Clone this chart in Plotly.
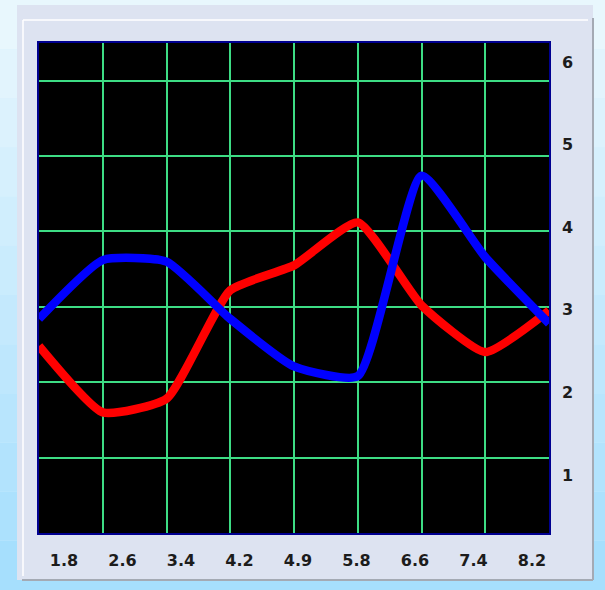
import plotly.graph_objects as go

# data
x_labels = ["1.8", "2.6", "3.4", "4.2", "4.9", "5.8", "6.6", "7.4", "8.2"]
y_labels = ["1", "2", "3", "4", "5", "6"]
red_values = [2.48, 1.60, 1.78, 3.22, 3.55, 4.12, 3.02, 2.40, 2.95]
blue_values = [2.84, 3.62, 3.60, 2.84, 2.21, 2.08, 4.74, 3.66, 2.78]

W, H = 605, 590
L, R, T, B = 39, 56, 43, 57
pw, ph = W - L - R, H - T - B


def px_x(p):
    return (p - L) / pw


def px_y(p):
    return (H - B - p) / ph


idx = list(range(len(red_values)))

fig = go.Figure()
fig.add_trace(go.Scatter(x=idx, y=red_values, mode="lines",
                         line=dict(color="#ff0000", width=8.5, shape="spline", smoothing=0.5),
                         showlegend=False, hoverinfo="skip"))
fig.add_trace(go.Scatter(x=idx, y=blue_values, mode="lines",
                         line=dict(color="#0000ff", width=8.5, shape="spline", smoothing=0.5),
                         showlegend=False, hoverinfo="skip"))

shapes = []
# light blue background gradient
n = 12
for i in range(n):
    t = i / (n - 1)
    r = int(0xe8 + (0xa6 - 0xe8) * t)
    g = int(0xf7 + (0xdf - 0xf7) * t)
    shapes.append(dict(type="rect", xref="paper", yref="paper", layer="below",
                       x0=px_x(0), x1=px_x(W), y0=px_y(H * (i + 1) / n), y1=px_y(H * i / n),
                       fillcolor=f"rgb({r},{g},253)", line=dict(width=0)))
# grey panel
shapes.append(dict(type="rect", xref="paper", yref="paper", layer="below",
                   x0=px_x(17), x1=px_x(593), y0=px_y(580), y1=px_y(5),
                   fillcolor="#dde3f1", line=dict(width=0)))
shapes.append(dict(type="line", xref="paper", yref="paper", layer="below",
                   x0=px_x(593), x1=px_x(593), y0=px_y(580), y1=px_y(18),
                   line=dict(color="#a4aab4", width=2)))
shapes.append(dict(type="line", xref="paper", yref="paper", layer="below",
                   x0=px_x(22), x1=px_x(593), y0=px_y(580), y1=px_y(580),
                   line=dict(color="#a4aab4", width=2)))
shapes.append(dict(type="line", xref="paper", yref="paper", layer="below",
                   x0=px_x(23), x1=px_x(23), y0=px_y(576), y1=px_y(20),
                   line=dict(color="#ffffff", width=1.5)))
shapes.append(dict(type="line", xref="paper", yref="paper", layer="below",
                   x0=px_x(23), x1=px_x(588), y0=px_y(20), y1=px_y(20),
                   line=dict(color="#ffffff", width=1.5)))
# black plot area (shapes sit above plot_bgcolor)
shapes.append(dict(type="rect", xref="paper", yref="paper", layer="below",
                   x0=0, x1=1, y0=0, y1=1, fillcolor="#000000", line=dict(width=0)))

n_pts = len(red_values)
label_span = (n_pts - 1) * pw / (532 - 64)
x2_lo = -(64 - L) * label_span / pw
y_lab_step = (475 - 62) / (len(y_labels) - 1)
y2_lo = 1 - (H - B - 475) / y_lab_step
y2_hi = len(y_labels) + (62 - T) / y_lab_step

fig.update_layout(
    width=W, height=H,
    margin=dict(l=L, r=R, t=T, b=B, pad=0),
    paper_bgcolor="#d6effd",
    plot_bgcolor="#000000",
    shapes=shapes,
    font=dict(family="DejaVu Sans, Verdana, sans-serif", size=16, color="#1c1c1c"),
    xaxis=dict(range=[0, n_pts - 1], dtick=1, showgrid=True, gridcolor="#3ddc84", gridwidth=1.5,
               showticklabels=False, zeroline=False, showline=True, linecolor="#000090",
               linewidth=2, mirror=True, fixedrange=True),
    yaxis=dict(range=[0, 6.5], dtick=1, showgrid=True, gridcolor="#3ddc84", gridwidth=1.5,
               showticklabels=False, zeroline=False, showline=True, linecolor="#000090",
               linewidth=2, mirror=True, fixedrange=True),
    xaxis2=dict(overlaying="x", side="bottom", range=[x2_lo, x2_lo + label_span],
                tickvals=list(range(n_pts)), ticktext=[f"<b>{t}</b>" for t in x_labels],
                showgrid=False, zeroline=False, ticks="", ticklabelstandoff=16, fixedrange=True),
    yaxis2=dict(overlaying="y", side="right", range=[y2_lo, y2_hi],
                tickvals=list(range(1, len(y_labels) + 1)), ticktext=[f"<b>{t}</b>" for t in y_labels],
                showgrid=False, zeroline=False, ticks="", ticklabelstandoff=12, fixedrange=True),
)
# dummy trace so the overlay label axes render
fig.add_trace(go.Scatter(x=[None], y=[None], xaxis="x2", yaxis="y2", showlegend=False))

fig.write_html("out.html", config={"displayModeBar": False},
               post_script="document.body.style.margin='0';")
